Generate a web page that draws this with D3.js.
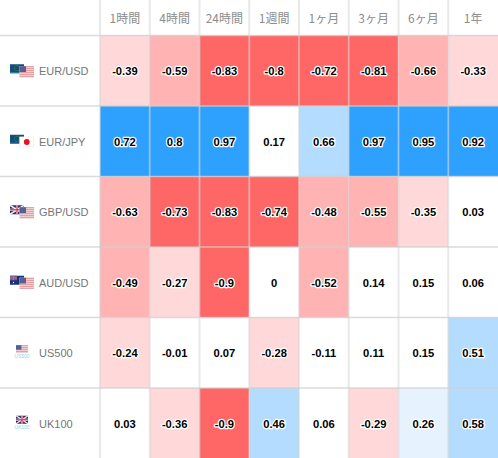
<!DOCTYPE html>
<html><head><meta charset="utf-8">
<script src="https://cdn.jsdelivr.net/npm/d3@7/dist/d3.min.js"></script>
<style>html,body{margin:0;padding:0;background:#fff}svg{display:block}</style>
</head><body><svg id="c" width="498" height="458"></svg>
<script>
const periods=["1時間","4時間","24時間","1週間","1ヶ月","3ヶ月","6ヶ月","1年"];
const instruments=["EUR/USD","EUR/JPY","GBP/USD","AUD/USD","US500","UK100"];
const eurusd=[-0.39,-0.59,-0.83,-0.8,-0.72,-0.81,-0.66,-0.33];
const eurjpy=[0.72,0.8,0.97,0.17,0.66,0.97,0.95,0.92];
const gbpusd=[-0.63,-0.73,-0.83,-0.74,-0.48,-0.55,-0.35,0.03];
const audusd=[-0.49,-0.27,-0.9,0,-0.52,0.14,0.15,0.06];
const us500=[-0.24,-0.01,0.07,-0.28,-0.11,0.11,0.15,0.51];
const uk100=[0.03,-0.36,-0.9,0.46,0.06,-0.29,0.26,0.58];
const rows=[eurusd,eurjpy,gbpusd,audusd,us500,uk100];
const flagPairs=[["eu","us"],["eu","jp"],["gb","us"],["au","us"],["us"],["gb"]];

const svg=d3.select("#c");
const x=d3.scaleBand().domain(periods).range([100,498]);
const y=d3.scaleBand().domain(instruments).range([35.5,458.5]);
const color=d3.scaleThreshold()
  .domain([-0.7,-0.4,-0.2,0.2,0.4,0.7])
  .range(["#ff6666","#ffb3b3","#ffd9d9","#ffffff","#e6f3ff","#b3dcff","#2ea1ff"]);

// header
svg.append("g").selectAll("text").data(periods).join("text")
  .attr("x",d=>x(d)+x.bandwidth()/2).attr("y",17.5)
  .attr("text-anchor","middle").attr("dominant-baseline","central")
  .attr("font-family","'Noto Sans CJK JP','Liberation Sans',sans-serif")
  .attr("font-size",12).attr("fill","#8c8c8c").text(d=>d);

// cells
const gRow=svg.append("g").selectAll("g").data(rows).join("g")
  .attr("transform",(d,i)=>`translate(0,${y(instruments[i])})`);
gRow.selectAll("rect").data(d=>d).join("rect")
  .attr("x",(d,i)=>x(periods[i])).attr("y",0)
  .attr("width",x.bandwidth()).attr("height",y.bandwidth())
  .attr("fill",d=>color(d));

// grid
svg.append("g").selectAll("line").data(periods).join("line")
  .attr("x1",d=>x(d)).attr("x2",d=>x(d)).attr("y1",0).attr("y2",458)
  .attr("stroke","#d4d4d4").attr("stroke-opacity",0.5).attr("stroke-width",2);
svg.append("g").selectAll("line").data(instruments).join("line")
  .attr("x1",0).attr("x2",498).attr("y1",d=>y(d)).attr("y2",d=>y(d))
  .attr("stroke","#cfcfcf").attr("stroke-opacity",0.75).attr("stroke-width",1.5);

gRow.selectAll("text").data(d=>d).join("text")
  .attr("x",(d,i)=>x(periods[i])+x.bandwidth()/2).attr("y",y.bandwidth()/2+0.7)
  .attr("text-anchor","middle").attr("dominant-baseline","central")
  .attr("font-family","'Liberation Sans',Arial,sans-serif").attr("font-weight","bold")
  .attr("font-size",11.2).attr("fill","#000")
  .attr("stroke","#fff").attr("stroke-width",2.5).attr("stroke-linejoin","round")
  .attr("paint-order","stroke").text(d=>d);

// labels
const gLab=svg.append("g").selectAll("g").data(instruments).join("g")
  .attr("transform",d=>`translate(0,${y(d)+y.bandwidth()/2})`);
gLab.append("text").attr("x",39).attr("y",0.5)
  .attr("dominant-baseline","central")
  .attr("font-family","'Liberation Sans',Arial,sans-serif")
  .attr("font-size",11).attr("fill","#757575").text(d=>d);

function flag(g,kind,fx,fy,w,h){
  const f=g.append("g").attr("transform",`translate(${fx},${fy})`);
  const r=(a,b,c,d,fill)=>f.append("rect").attr("x",a).attr("y",b).attr("width",c).attr("height",d).attr("fill",fill);
  if(kind==="eu"){
    r(0,0,w,h,"#0f4f79"); r(0,h-1,w,1,"#3a86b0");
    f.append("circle").attr("cx",w/2).attr("cy",h/2-.5).attr("r",2.6).attr("fill","none").attr("stroke","#8a9a45").attr("stroke-width",.6).attr("stroke-dasharray","1 .8");
  } else if(kind==="us"){
    r(0,0,w,h,"#f6e5e5");
    for(let i=0;i<h;i+=2) r(0,i,w,1,"#dc8a90");
    r(0,0,w*0.45,h*0.55,"#585f92");
  } else if(kind==="jp"){
    r(0,0,w,h,"#ffffff"); f.append("rect").attr("x",.25).attr("y",.25).attr("width",w-.5).attr("height",h-.5).attr("fill","none").attr("stroke","#e2e2e2").attr("stroke-width",.5);
    f.append("circle").attr("cx",w/2).attr("cy",h/2).attr("r",2.9).attr("fill","#ee0f1f");
  } else if(kind==="gb"){
    r(0,0,w,h,"#1d2a6b");
    f.append("path").attr("d",`M0,0L${w},${h}M${w},0L0,${h}`).attr("stroke","#f3e6ea").attr("stroke-width",1.5);
    r(w/2-1.1,0,2.2,h,"#f3e6ea"); r(0,h/2-1.1,w,2.2,"#f3e6ea");
    r(w/2-.6,0,1.2,h,"#d8344a"); r(0,h/2-.6,w,1.2,"#d8344a");
  } else if(kind==="au"){
    r(0,0,w,h,"#17307e");
    r(0,0,w/2,h/2,"#6a5f98");
    r(w/4-.5,0,1,h/2,"#e35a6a"); r(0,h/4-.5,w/2,1,"#e35a6a");
    [[w*.25,h*.75],[w*.75,h*.3],[w*.85,h*.65]].forEach(p=>f.append("circle").attr("cx",p[0]).attr("cy",p[1]).attr("r",.7).attr("fill","#fff"));
  }
}
gLab.each(function(d,i){
  const g=d3.select(this), p=flagPairs[i];
  if(p.length===2){
    flag(g,p[0],10,-6.5,14,9);
    flag(g,p[1],19.5,-4.5,14.5,10.5);
  } else {
    flag(g,p[0],16,-7.5,12,8);
    g.append("text").attr("x",22).attr("y",5.5).attr("text-anchor","middle")
      .attr("font-family","'Liberation Sans',Arial,sans-serif").attr("font-size",5)
      .attr("fill","#7fd8f2").text(d);
  }
});
</script></body></html>
